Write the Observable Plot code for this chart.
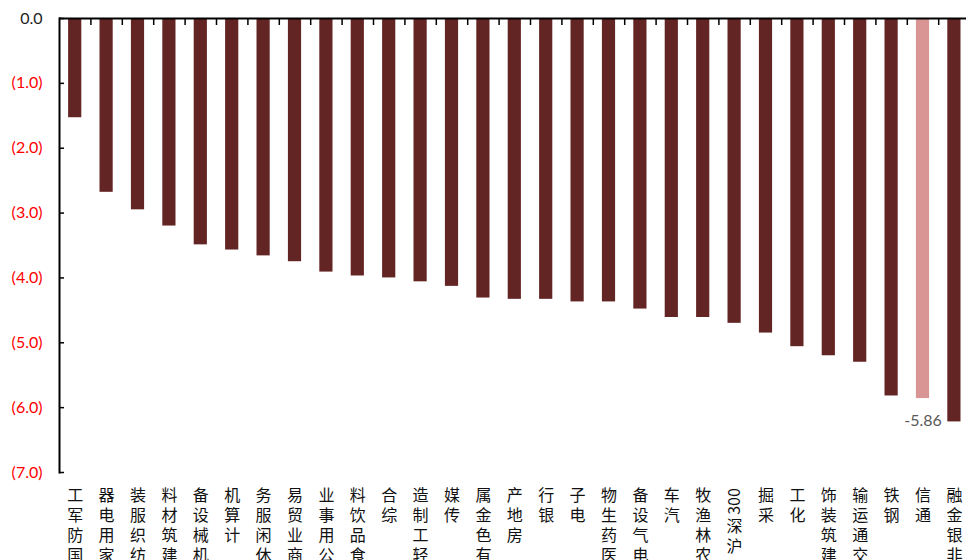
<!DOCTYPE html>
<html><head><meta charset="utf-8">
<script src="https://cdn.jsdelivr.net/npm/d3@7"></script>
<script src="https://cdn.jsdelivr.net/npm/@observablehq/plot@0.6"></script>
<style>body{margin:0;background:#fff}</style>
</head><body><div id="chart"></div>
<script>
const categories = ["国防军工","家用电器","纺织服装","建筑材料","机械设备","计算机","休闲服务","商业贸易","公用事业","食品饮料","综合","轻工制造","传媒","有色金属","房地产","银行","电子","医药生物","电气设备","汽车","农林渔牧","沪深300","采掘","化工","建筑装饰","交通运输","钢铁","通信","非银金融"];
const values = [-1.53,-2.68,-2.95,-3.20,-3.49,-3.57,-3.66,-3.75,-3.91,-3.97,-4.00,-4.06,-4.13,-4.31,-4.33,-4.33,-4.37,-4.37,-4.48,-4.61,-4.61,-4.70,-4.85,-5.06,-5.20,-5.30,-5.82,-5.86,-6.22];
const highlight = "通信";
const yTicks = [0,-1,-2,-3,-4,-5,-6,-7];

const data = categories.map((c,i)=>({name:c, value:values[i]}));
const labelData = data.filter(d=>d.name===highlight);

// tokenize labels for vertical (bottom-to-top) stacked text
const tokens = [];
for (const c of categories) {
  const parts = c.match(/\d+|./g).reverse();
  let cursor = 13;
  for (const p of parts) {
    const isNum = /^\d+$/.test(p);
    const adv = isNum ? 31 : 20;
    tokens.push({name:c, t:p, dy: Math.round(cursor + adv/2), rot: isNum ? -90 : 0});
    cursor += adv;
  }
}
const groups = d3.groups(tokens, d=>d.dy+"|"+d.rot);
const labelMarks = groups.map(([k, arr]) => Plot.text(arr, {
  x:"name", text:"t", frameAnchor:"bottom", dy: arr[0].dy, rotate: arr[0].rot,
  lineAnchor:"middle", textAnchor:"middle", fill:"#111", fontSize:16,
  fontFamily:"'Noto Sans CJK SC', sans-serif"
}));

const step = 31.4;
const chart = Plot.plot({
  width:966, height:560,
  marginLeft:59, marginRight:0, marginTop:18, marginBottom:88,
  style:{fontFamily:"Lato, sans-serif", fontSize:"16px", background:"#fff"},
  x:{domain:categories, range:[59, 59+categories.length*step], paddingInner:0.58, paddingOuter:0.29, round:false, axis:null},
  y:{domain:[-7,0], axis:null},
  marks:[
    Plot.barY(data, {x:"name", y:"value", fill:d=>d.name===highlight ? "#D99594" : "#632523"}),
    Plot.ruleY([0], {stroke:"#000", strokeWidth:2}),
    Plot.frame({anchor:"left", stroke:"#000", strokeWidth:2}),
    Plot.axisX({anchor:"top", tickSize:-6, tickFormat:()=>"", dx:step/2, label:null, stroke:"#000", strokeWidth:1.5}),
    Plot.axisY({ticks:yTicks, tickSize:-5, tickFormat:()=>"", label:null, stroke:"#000", strokeWidth:1.5}),
    Plot.axisY({ticks:[0], tickSize:0, tickPadding:17, tickFormat:()=>"0.0", label:null, fill:"#222", fontSize:16}),
    Plot.axisY({ticks:yTicks.filter(d=>d!==0), tickSize:0, tickPadding:17, tickFormat:d=>`(${Math.abs(d).toFixed(1)})`, label:null, fill:"#ff0000", fontSize:16}),
    Plot.text(labelData, {x:"name", y:"value", text:d=>d.value.toFixed(2), dy:22, lineAnchor:"middle", fill:"#595959", fontSize:16}),
    ...labelMarks
  ]
});
document.getElementById("chart").append(chart);
</script>
</body></html>
